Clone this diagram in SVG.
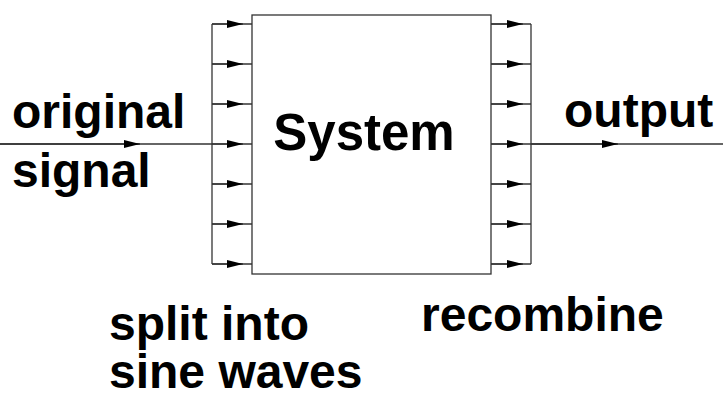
<svg xmlns="http://www.w3.org/2000/svg" width="723" height="396" viewBox="0 0 723 396">
<style>
.ln{stroke:#333;stroke-width:1.3;fill:none}
.t{font-family:"Liberation Sans",Arial,sans-serif;font-weight:bold;fill:#000;font-size:48px}
</style>
<defs>
<marker id="ah" markerWidth="16" markerHeight="8" refX="16" refY="4" orient="auto" markerUnits="userSpaceOnUse">
<path d="M0,0 L16,4 L0,8 Z" fill="#000"/>
</marker>
</defs>
<rect width="723" height="396" fill="#fff"/>
<g id="connectors">
<line class="ln" x1="0" y1="144" x2="212" y2="144"/>
<line class="ln" x1="0" y1="144" x2="140" y2="144" marker-end="url(#ah)"/>
<line class="ln" x1="212" y1="24" x2="212" y2="264"/>
<g id="split-arrows">
<line class="ln" x1="212" y1="24" x2="252" y2="24"/><line class="ln" x1="212" y1="24" x2="243" y2="24" marker-end="url(#ah)"/>
<line class="ln" x1="212" y1="64" x2="252" y2="64"/><line class="ln" x1="212" y1="64" x2="243" y2="64" marker-end="url(#ah)"/>
<line class="ln" x1="212" y1="104" x2="252" y2="104"/><line class="ln" x1="212" y1="104" x2="243" y2="104" marker-end="url(#ah)"/>
<line class="ln" x1="212" y1="144" x2="252" y2="144"/><line class="ln" x1="212" y1="144" x2="243" y2="144" marker-end="url(#ah)"/>
<line class="ln" x1="212" y1="184" x2="252" y2="184"/><line class="ln" x1="212" y1="184" x2="243" y2="184" marker-end="url(#ah)"/>
<line class="ln" x1="212" y1="224" x2="252" y2="224"/><line class="ln" x1="212" y1="224" x2="243" y2="224" marker-end="url(#ah)"/>
<line class="ln" x1="212" y1="264" x2="252" y2="264"/><line class="ln" x1="212" y1="264" x2="243" y2="264" marker-end="url(#ah)"/>
</g>
<g id="combine-arrows">
<line class="ln" x1="491" y1="24" x2="531" y2="24"/><line class="ln" x1="491" y1="24" x2="523" y2="24" marker-end="url(#ah)"/>
<line class="ln" x1="491" y1="64" x2="531" y2="64"/><line class="ln" x1="491" y1="64" x2="523" y2="64" marker-end="url(#ah)"/>
<line class="ln" x1="491" y1="104" x2="531" y2="104"/><line class="ln" x1="491" y1="104" x2="523" y2="104" marker-end="url(#ah)"/>
<line class="ln" x1="491" y1="144" x2="531" y2="144"/><line class="ln" x1="491" y1="144" x2="523" y2="144" marker-end="url(#ah)"/>
<line class="ln" x1="491" y1="184" x2="531" y2="184"/><line class="ln" x1="491" y1="184" x2="523" y2="184" marker-end="url(#ah)"/>
<line class="ln" x1="491" y1="224" x2="531" y2="224"/><line class="ln" x1="491" y1="224" x2="523" y2="224" marker-end="url(#ah)"/>
<line class="ln" x1="491" y1="264" x2="531" y2="264"/><line class="ln" x1="491" y1="264" x2="523" y2="264" marker-end="url(#ah)"/>
</g>
<line class="ln" x1="531" y1="24" x2="531" y2="264"/>
<line class="ln" x1="531" y1="144" x2="723" y2="144"/>
<line class="ln" x1="531" y1="144" x2="618" y2="144" marker-end="url(#ah)"/>
</g>
<g id="system">
<rect class="ln" x="252" y="15" width="239" height="259"/>
<text class="t" x="364" y="150" style="font-size:51px" text-anchor="middle">System</text>
</g>
<g id="input-label">
<text class="t" x="12" y="128">original</text>
<text class="t" x="12" y="187">signal</text>
</g>
<g id="output-label">
<text class="t" x="564" y="127">output</text>
</g>
<g id="split-label">
<text class="t" x="109" y="340">split into</text>
<text class="t" x="109" y="388">sine waves</text>
</g>
<g id="recombine-label">
<text class="t" x="421" y="331">recombine</text>
</g>
</svg>
